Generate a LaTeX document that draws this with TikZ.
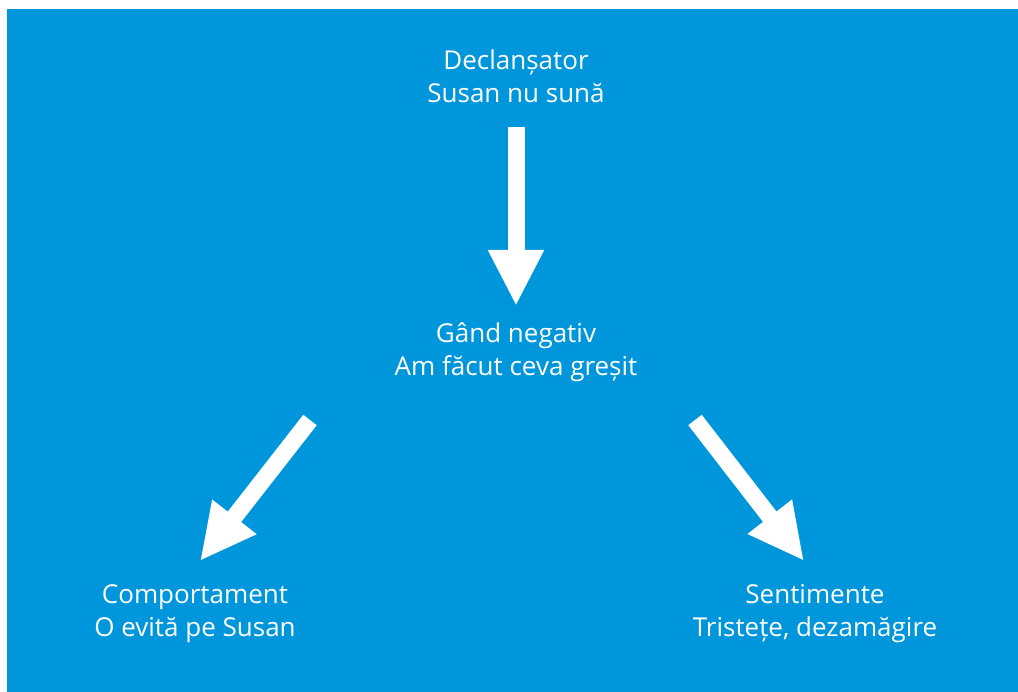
\documentclass[tikz,border=0pt]{standalone}
\usepackage{fontspec}
\setmainfont{Open Sans}
\usetikzlibrary{positioning}
\usetikzlibrary{calc}
\usetikzlibrary{arrows.meta}
\definecolor{fundal}{RGB}{0,150,219}
\tikzset{
  eticheta/.style={text=white, align=center, font=\fontsize{26}{33}\selectfont, inner sep=0pt},
  sageata/.style={white, line width=17pt, -{Triangle[width=52pt,length=56pt]}}
}
\begin{document}
\begin{tikzpicture}[x=1pt, y=-1pt]
\useasboundingbox (0,0) rectangle (1018,692);
\fill[white] (0,0) rectangle (1018,692);
\fill[fundal] (7,9) rectangle (1018,692);
\node[eticheta] (declansator) at (516, 76) {Declanșator\\Susan nu sună};
\node[eticheta] (gand) at (516, 352) {Gând negativ\\Am făcut ceva greșit};
\node[eticheta] (comportament) at (195, 614) {Comportament\\O evită pe Susan};
\node[eticheta] (sentimente) at (815, 614) {Sentimente\\Tristețe, dezamăgire};
\coordinate (s1) at (516, 127);
\coordinate (t1) at (516, 306);
\coordinate (s2) at (310, 420);
\coordinate (t2) at (200, 561);
\coordinate (s3) at (695, 420);
\coordinate (t3) at (804, 561);
\draw[sageata] (s1) -- (t1);
\draw[sageata] (s2) -- (t2);
\draw[sageata] (s3) -- (t3);
\end{tikzpicture}
\end{document}
